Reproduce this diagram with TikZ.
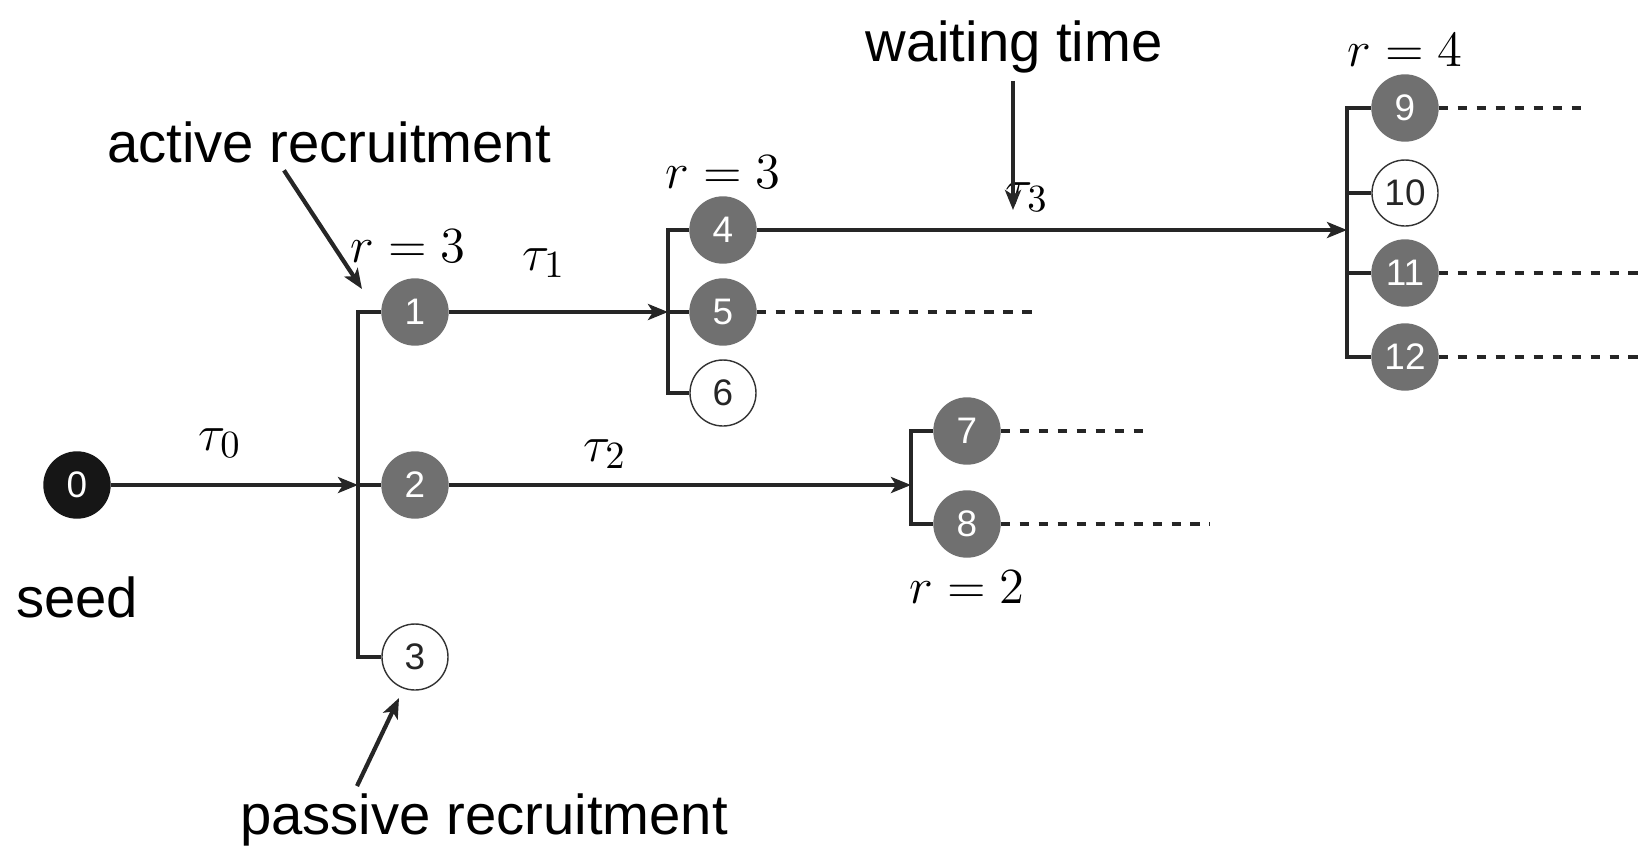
\documentclass[tikz,border=0pt]{standalone}
\usepackage{fontspec}
\setmainfont{Liberation Sans}
\usepackage{tikz}
\usetikzlibrary{positioning,arrows.meta}
\usepackage{xcolor}
\definecolor{agentgray}{RGB}{112,112,112}
\definecolor{seedblack}{RGB}{22,22,22}

\begin{document}
\begin{tikzpicture}[
    agent/.style={circle, fill=agentgray, draw=agentgray, text=white,
        minimum size=0.66cm, inner sep=0pt, font=\fontsize{10.5}{12}\selectfont},
    seedagent/.style={agent, fill=seedblack, draw=seedblack},
    idle/.style={agent, fill=white, draw=black!80, thin, text=black!85},
    bracket/.style={line width=1.2pt, black!85},
    arrow/.style={-{Stealth[length=2mm, width=1.6mm, inset=0.5mm]}, line width=1.2pt, black!85},
    cont/.style={dash pattern=on 2.6pt off 2.8pt, line width=1.4pt, black!85},
    lbl/.style={inner sep=2pt, font=\fontsize{16}{19}\selectfont},
    mlbl/.style={inner sep=2pt, font=\fontsize{15}{18}\selectfont}
]
    \useasboundingbox (0,0) rectangle (16.47,-8.45);

    % agents
    \node[seedagent] (n0) at (0.77,-4.85) {0};
    \node[agent] (n1) at (4.15,-3.12) {1};
    \node[agent] (n2) at (4.15,-4.85) {2};
    \node[idle] (n3) at (4.15,-6.57) {3};
    \node[agent] (n4) at (7.23,-2.30) {4};
    \node[agent] (n5) at (7.23,-3.12) {5};
    \node[idle] (n6) at (7.23,-3.93) {6};
    \node[agent] (n7) at (9.67,-4.31) {7};
    \node[agent] (n8) at (9.67,-5.24) {8};
    \node[agent] (n9) at (14.05,-1.08) {9};
    \node[idle] (n10) at (14.05,-1.93) {10};
    \node[agent] (n11) at (14.05,-2.73) {11};
    \node[agent] (n12) at (14.05,-3.57) {12};

    % recruitment points
    \coordinate (b1) at (3.58,-4.85);
    \coordinate (b2) at (6.68,-3.12);
    \coordinate (b3) at (9.11,-4.85);
    \coordinate (b4) at (13.47,-2.30);

    \draw[bracket] (n1.west) -| (b1) |- (n3.west);
    \draw[bracket] (b1) -- (n2.west);
    \draw[bracket] (n4.west) -| (b2) |- (n6.west);
    \draw[bracket] (b2) -- (n5.west);
    \draw[bracket] (n7.west) -| (b3) |- (n8.west);
    \draw[bracket] (n9.west) -| (b4) |- (n12.west);
    \draw[bracket] (b4 |- n10) -- (n10.west);
    \draw[bracket] (b4 |- n11) -- (n11.west);

    \draw[arrow] (n0) -- (b1);
    \draw[arrow] (n1) -- (b2);
    \draw[arrow] (n2) -- (b3);
    \draw[arrow] (n4) -- (b4);

    % unfinished chains
    \coordinate (e5) at (10.35,-3.12);
    \coordinate (e7) at (11.45,-4.31);
    \coordinate (e8) at (12.10,-5.24);
    \coordinate (e9) at (15.83,-1.08);
    \coordinate (e11) at (16.47,-2.73);
    \coordinate (e12) at (16.47,-3.57);
    \foreach \n in {5,7,8,9,11,12}
        \draw[cont] (n\n.east) -- (e\n);

    % waiting times
    \node[mlbl] (t0) at (2.20,-4.43) {$\tau_0$};
    \node[mlbl] (t1) at (5.44,-2.63) {$\tau_1$};
    \node[mlbl] (t2) at (6.05,-4.54) {$\tau_2$};
    \node[mlbl] (t3) at (10.27,-1.97) {$\tau_3$};

    % number of recruits
    \node[mlbl, above=0.08cm of n1, xshift=-0.07cm] (r1) {$r=3$};
    \node[mlbl, above=0pt of n4] (r4) {$r=3$};
    \node[mlbl, below=0.05cm of n8] (r8) {$r=2$};
    \node[mlbl, above=0pt of n9] (r9) {$r=4$};

    % annotations
    \node[lbl, below=0.5cm of n0] (seed) {seed};
    \node[lbl] (act) at (3.29,-1.42) {active recruitment};
    \node[lbl] (pas) at (4.84,-8.20) {passive recruitment};
    \node[lbl] (wait) at (10.14,-0.47) {waiting time};

    \coordinate (a1) at (3.62,-2.89);
    \coordinate (a2) at (3.99,-6.98);
    \coordinate (a3) at (10.13,-2.10);
    \draw[arrow] ([xshift=-0.45cm]act.south) -- (a1);
    \draw[arrow] ([xshift=-1.27cm]pas.north) -- (a2);
    \draw[arrow] (wait.south -| a3) -- (a3);
\end{tikzpicture}
\end{document}
